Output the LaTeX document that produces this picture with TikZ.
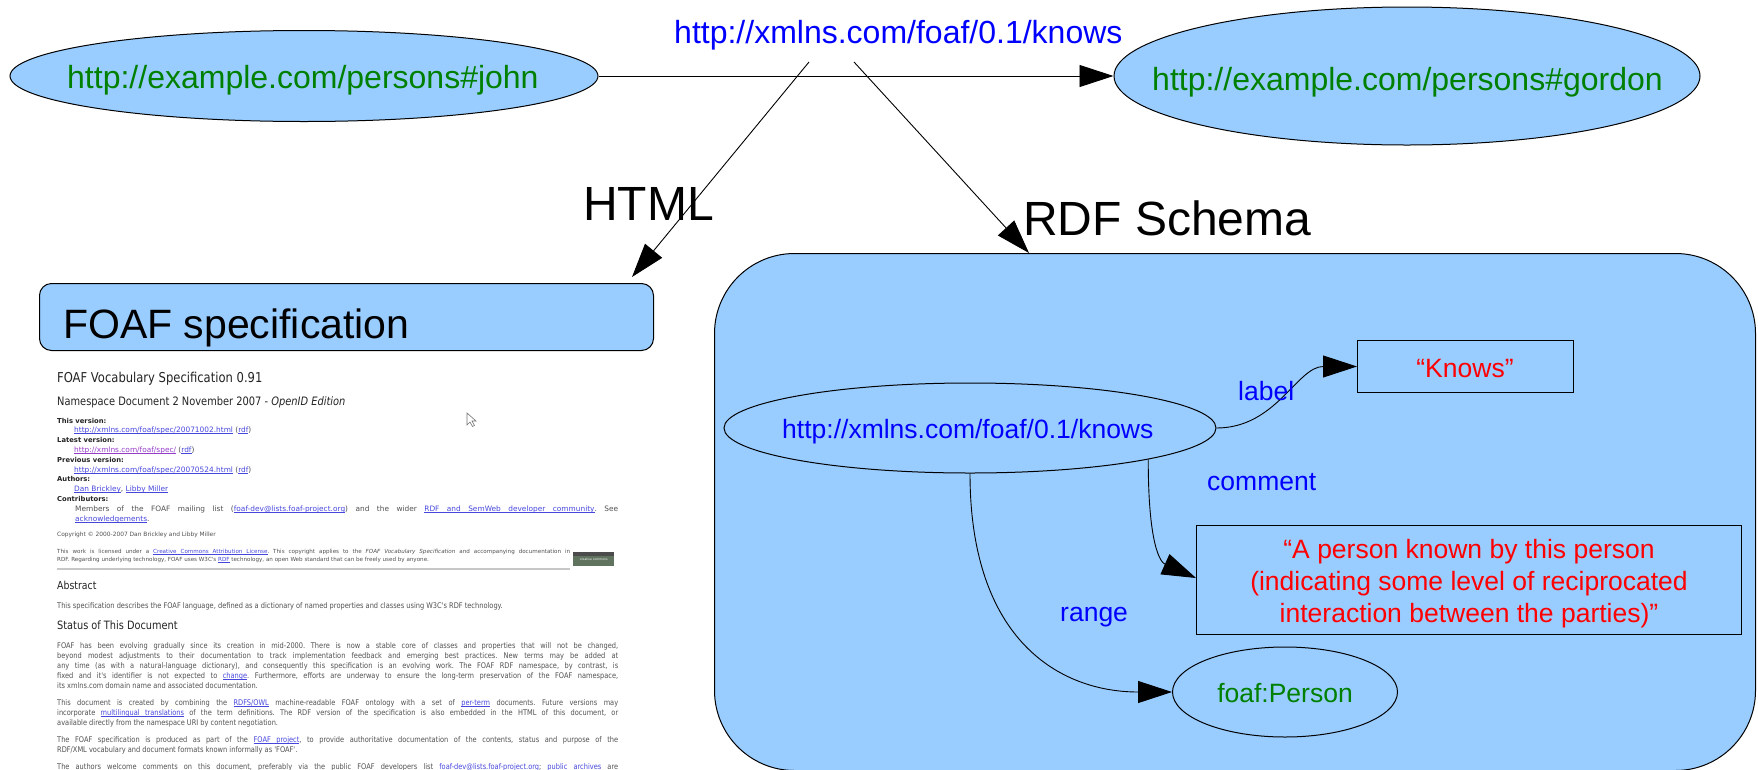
\documentclass[tikz,border=0pt]{standalone}
\usepackage{fontspec}
\setmainfont{Liberation Sans}
\newfontfamily\shotfont{DejaVu Sans}
\newfontfamily\shotnarrow{DejaVu Sans}[FakeStretch=0.85]
\usetikzlibrary{arrows.meta,calc,shapes.geometric}
\definecolor{boxblue}{RGB}{153,204,255}
\definecolor{uriGreen}{RGB}{0,128,0}
\definecolor{uriBlue}{RGB}{0,0,255}
\definecolor{litRed}{RGB}{255,0,0}
\definecolor{lnkBlue}{RGB}{70,70,220}
\definecolor{lnkVisited}{RGB}{150,60,200}
\definecolor{shotText}{RGB}{80,80,80}
\definecolor{shotHead}{RGB}{35,35,35}
\definecolor{ccGreen}{RGB}{95,115,95}
\makeatletter
\def\ulbox#1{\setbox0\hbox{#1}\rlap{\vrule height -0.7pt depth 1.1pt width\wd0}\box0}
\def\ulspace{\leaders\hrule height -0.7pt depth 1.1pt\hskip\fontdimen2\font plus\fontdimen3\font minus\fontdimen4\font}
\def\lnk@w#1 #2\@nil{\ulbox{#1}\ifx\relax#2\relax\else\ulspace\lnk@w#2\@nil\fi}
\def\lnk#1{{\color{lnkBlue}\lnk@w#1 \@nil}}
\def\vlnk#1{{\color{lnkVisited}\lnk@w#1 \@nil}}
\makeatother
\newcommand\fs[2]{\fontsize{#1}{#2}\selectfont}
\frenchspacing
\begin{document}
\begin{tikzpicture}[x=1pt,y=-1pt,
  res/.style={ellipse, draw=black, line width=1pt, fill=boxblue, inner sep=0pt},
  lit/.style={rectangle, draw=black, line width=1pt, inner sep=0pt},
  edge/.style={draw=black, line width=0.9pt, -{Triangle[length=34pt,width=22pt]}},
  bigtxt/.style={font=\fs{32}{38}, inner sep=0pt},
  hugetxt/.style={font=\fs{48}{56}, inner sep=0pt},
  midtxt/.style={font=\fs{26.5}{32}, inner sep=0pt},
  shotpar/.style={align=justify, execute at begin node={\frenchspacing\tolerance=10000\hyphenpenalty=10000\exhyphenpenalty=10000}},
  shotdt/.style={font={\shotfont\bfseries\fs{6.8}{8}}, text=shotHead},
  shotdd/.style={font={\shotfont\fs{7.4}{9.7}}},
  shotbody/.style={font={\shotnarrow\fs{7.8}{10}}},
]
\useasboundingbox (0,0) rectangle (1758,769);
\clip (0,0) rectangle (1758,769);

% containers
\node[anchor=north west, draw=black, fill=boxblue, line width=1pt, rounded corners=80pt,
      minimum width=1041pt, minimum height=517pt, inner sep=0pt] (rdf) at (714,253) {};
\node[anchor=north west, draw=black, fill=boxblue, line width=1pt, rounded corners=12pt,
      minimum width=614pt, minimum height=67pt, inner sep=0pt] (spec) at (39,283) {};

% top level resources
\node[res, minimum width=588pt, minimum height=91pt] (john) at (304,76) {};
\node[res, minimum width=586pt, minimum height=138pt] (gordon) at (1407,76) {};
\node[bigtxt, text=uriGreen, anchor=base west] (johnT) at (67,88) {http://example.com/persons\#john};
\node[bigtxt, text=uriGreen, anchor=base west] (gordonT) at (1152,90) {http://example.com/persons\#gordon};
\node[bigtxt, text=uriBlue, anchor=base west] (predT) at (674,43) {http://xmlns.com/foaf/0.1/knows};
\coordinate (kL) at (809,62);
\coordinate (kR) at (854,62);

\draw[edge] (john) -- (gordon);
\draw[edge] (kL) -- ($(spec.north east)+(-22,-6)$);
\draw[edge] (kR) -- ($(rdf.north west)+(315,0)$);

\node[hugetxt, anchor=base west] (htmlT) at (583,220) {HTML};
\node[hugetxt, anchor=base west] (rdfsT) at (1023,235) {RDF Schema};
\node[font=\fs{41}{48}, inner sep=0pt, anchor=base west] (specT) at (63,338) {FOAF specification};

% RDF schema content
\node[res, minimum width=492pt, minimum height=90pt] (prop) at (970,428) {};
\node[midtxt, text=uriBlue, anchor=base west] (propT) at (782,438) {http://xmlns.com/foaf/0.1/knows};
\node[lit, minimum width=216pt, minimum height=52pt, anchor=north west] (kbox) at (1357,340) {};
\node[midtxt, text=litRed, anchor=base] (kboxT) at (1465,377) {“Knows”};
\node[lit, minimum width=545pt, minimum height=109pt, anchor=north west] (cbox) at (1196,525) {};
\node[midtxt, text=litRed, align=center, anchor=base] (cboxT) at (1469,622)
  {“A person known by this person\\(indicating some level of reciprocated\\interaction between the parties)”};
\node[res, minimum width=225pt, minimum height=90pt] (person) at (1285,692) {};
\node[midtxt, text=uriGreen, anchor=base] (personT) at (1285,702) {foaf:Person};

\draw[edge] (prop.east) to[out=0,in=180] (kbox.west);
\draw[edge] (prop.-10.4) .. controls +(0,85) and +(-36,-16) .. ($(cbox.north west)+(0,53)$);
\draw[edge] (prop.south) .. controls +(0,167) and +(-112,0) .. (person.west);

\node[midtxt, text=uriBlue, anchor=base west] (labT) at (1238,400) {label};
\node[midtxt, text=uriBlue, anchor=base west] (comT) at (1207,490) {comment};
\node[midtxt, text=uriBlue, anchor=base west] (ranT) at (1060,621) {range};

% screenshot of the FOAF specification
\begin{scope}[every node/.style={inner sep=0pt, anchor=base west, text=shotText}]
\node[font={\shotnarrow\fs{13.6}{16}}, text=shotHead] (s1) at (57,382.5) {FOAF Vocabulary Specification 0.91};
\node[font={\shotnarrow\fs{11.6}{14}}, text=shotHead] (s2) at (57,405) {Namespace Document 2 November 2007 - \textit{OpenID Edition}};
\node[shotdt] (dt1) at (57,423.3) {This version:};
\node[shotdd] (dd1) at (74,432.7) {\lnk{http://xmlns.com/foaf/spec/20071002.html} (\lnk{rdf})};
\node[shotdt] (dt2) at (57,442.7) {Latest version:};
\node[shotdd] (dd2) at (74,452.3) {\vlnk{http://xmlns.com/foaf/spec/} (\lnk{rdf})};
\node[shotdt] (dt3) at (57,462) {Previous version:};
\node[shotdd] (dd3) at (74,472) {\lnk{http://xmlns.com/foaf/spec/20070524.html} (\lnk{rdf})};
\node[shotdt] (dt4) at (57,481.7) {Authors:};
\node[shotdd] (dd4) at (74,491.7) {\lnk{Dan Brickley}, \lnk{Libby Miller}};
\node[shotdt] (dt5) at (57,501.3) {Contributors:};
\node[shotdd, shotpar, text width=543pt] (dd5) at (75,511.3)
  {Members of the FOAF mailing list (\lnk{foaf-dev@lists.foaf-project.org}) and the wider \lnk{RDF and SemWeb developer community}. See\linebreak \lnk{acknowledgements}.};
\node[font={\shotfont\fs{5.9}{7}}] (copy) at (57,536.7) {Copyright © 2000-2007 Dan Brickley and Libby Miller};
\node[shotpar, text width=513pt, font={\shotfont\fs{5.6}{8}}] (lic) at (57,553.3)
  {This work is licensed under a \lnk{Creative Commons Attribution License}. This copyright applies to the \textit{FOAF Vocabulary Specification} and accompanying documentation in\linebreak RDF. Regarding underlying technology, FOAF uses W3C's \lnk{RDF} technology, an open Web standard that can be freely used by anyone.};
\node[anchor=north west, fill=ccGreen, minimum width=41pt, minimum height=14pt, text=white,
      font={\shotfont\fs{3}{3.4}}, align=center] (cc) at (573,552) {\\creative commons};
\fill[black!70] (573,552) rectangle (614,556);
\draw[black!22, line width=2pt] (57,569) -- (570,569);
\node[font={\shotnarrow\fs{11}{13}}, text=shotHead] (abs) at (57,589.3) {Abstract};
\node[shotbody] (absP) at (57,608.7) {This specification describes the FOAF language, defined as a dictionary of named properties and classes using W3C's RDF technology.};
\node[font={\shotnarrow\fs{11.5}{13}}, text=shotHead] (stat) at (57,629.3) {Status of This Document};
\node[shotbody, shotpar, text width=561pt] (p1) at (57,648.7)
  {FOAF has been evolving gradually since its creation in mid-2000. There is now a stable core of classes and properties that will not be changed,\linebreak
   beyond modest adjustments to their documentation to track implementation feedback and emerging best practices. New terms may be added at\linebreak
   any time (as with a natural-language dictionary), and consequently this specification is an evolving work. The FOAF RDF namespace, by contrast, is\linebreak
   fixed and it's identifier is not expected to \lnk{change}. Furthermore, efforts are underway to ensure the long-term preservation of the FOAF namespace,\linebreak
   its xmlns.com domain name and associated documentation.};
\node[shotbody, shotpar, text width=561pt] (p2) at (57,705.3)
  {This document is created by combining the \lnk{RDFS/OWL} machine-readable FOAF ontology with a set of \lnk{per-term} documents. Future versions may\linebreak
   incorporate \lnk{multilingual translations} of the term definitions. The RDF version of the specification is also embedded in the HTML of this document, or\linebreak
   available directly from the namespace URI by content negotiation.};
\node[shotbody, shotpar, text width=561pt] (p3) at (57,742.3)
  {The FOAF specification is produced as part of the \lnk{FOAF project}, to provide authoritative documentation of the contents, status and purpose of the\linebreak
   RDF/XML vocabulary and document formats known informally as 'FOAF'.};
\node[shotbody, shotpar, text width=561pt] (p4) at (57,769)
  {The authors welcome comments on this document, preferably via the public FOAF developers list \lnk{foaf-dev@lists.foaf-project.org}; \lnk{public archives} are\linebreak\mbox{}};
\end{scope}
\draw[black!55, fill=white, line width=0.6pt] (467,413) -- (467,425) -- (470,422) -- (472.5,426.5) -- (474.5,425.5) -- (472,421) -- (476,421) -- cycle;
\end{tikzpicture}
\end{document}
